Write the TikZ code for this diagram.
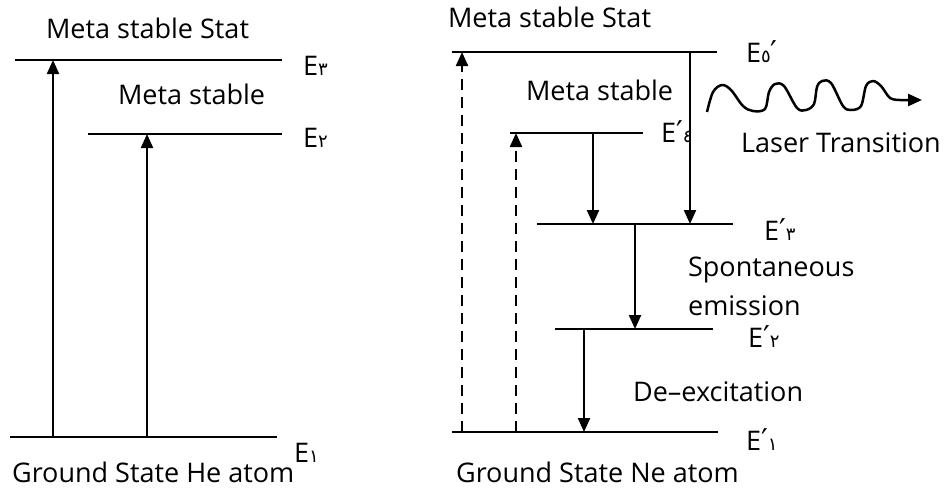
\documentclass[tikz,border=0pt]{standalone}
\usepackage{fontspec}
\setmainfont{Open Sans}
\newfontfamily\arabicfont[Script=Arabic]{DejaVu Sans}
\usetikzlibrary{arrows.meta}
\newcommand{\adig}[1]{{\arabicfont\fontsize{18}{18}\selectfont #1}}
\newcommand{\prm}{{\arabicfont\fontsize{30}{30}\selectfont ′}}
\tikzset{every picture/.style={line width=2.2pt}}

\begin{document}
\begin{tikzpicture}[x=1pt,y=-1pt,font=\fontsize{27}{32}\selectfont,
        pump/.style={-{Triangle[length=14pt,width=12pt]}},
        pumpdash/.style={pump,dash pattern=on 11pt off 7pt},
        txt/.style={anchor=base west,inner sep=0pt}]
    \useasboundingbox (0,0) rectangle (947,488);
    % He levels
    \coordinate (he1a) at (10,437);  \coordinate (he1b) at (277,437);
    \coordinate (he2a) at (88,134);  \coordinate (he2b) at (282,134);
    \coordinate (he3a) at (15,60);   \coordinate (he3b) at (282,60);
    % Ne levels
    \coordinate (ne1a) at (452,432); \coordinate (ne1b) at (718,432);
    \coordinate (ne2a) at (555,329); \coordinate (ne2b) at (713,329);
    \coordinate (ne3a) at (537,224); \coordinate (ne3b) at (733,224);
    \coordinate (ne4a) at (510,133); \coordinate (ne4b) at (643,133);
    \coordinate (ne5a) at (452,52);  \coordinate (ne5b) at (717,52);
    \foreach \lv in {he1,he2,he3,ne1,ne2,ne3,ne4,ne5}
        \draw (\lv a) -- (\lv b);
    % transitions
    \draw[pump] (53,0 |- he1a) -- (53,0 |- he3a);
    \draw[pump] (147,0 |- he1a) -- (147,0 |- he2a);
    \draw[pumpdash] (462,0 |- ne1a) -- (462,0 |- ne5a);
    \draw[pumpdash] (516,0 |- ne1a) -- (516,0 |- ne4a);
    \draw[pump] (690,0 |- ne5a) -- (690,0 |- ne3a);
    \draw[pump] (593,0 |- ne4a) -- (593,0 |- ne3a);
    \draw[pump] (635,0 |- ne3a) -- (635,0 |- ne2a);
    \draw[pump] (584,0 |- ne2a) -- (584,0 |- ne1a);
    % laser wave
    \coordinate (wv0) at (707,112);
    \coordinate (wv1) at (922,100);
    \draw[-{Triangle[length=14pt,width=12pt]},line join=round,line width=2.5pt]
        plot[smooth,tension=0.55] coordinates {(wv0) (713,92) (722,85) (731,90)
        (743,106) (753,111) (765,109) (769,92) (775,84) (784,86) (797,108)
        (806,110) (814,104) (817,87) (822,81) (831,83) (843,106) (851,110)
        (861,106) (866,86) (873,81) (881,86) (890,98) (900,100)} -- (wv1);
    % labels
    \node[txt] (heTop) at (45,38) {Meta stable Stat};
    \node[txt] (heMid) at (117,104) {Meta stable};
    \node[txt] (heGnd) at (11,482) {Ground State He atom};
    \node[txt] (heE3) at (302,75) {E\adig{٣}};
    \node[txt] (heE2) at (302,147) {E\adig{٢}};
    \node[txt] (heE1) at (293,462) {E\adig{١}};
    \node[txt] (neTop) at (447,27) {Meta stable Stat};
    \node[txt] (neMid) at (525,100) {Meta stable};
    \node[txt] (neGnd) at (455,482) {Ground State Ne atom};
    \node[txt] (neE5) at (745,62) {E\adig{٥}\prm};
    \node[txt] (neE4) at (660,142) {E\prm\adig{٤}};
    \node[txt] (neE3) at (763,240) {E\prm\adig{٣}};
    \node[txt] (neE2) at (747,347) {E\prm\adig{٢}};
    \node[txt] (neE1) at (745,450) {E\prm\adig{١}};
    \node[txt] (laser) at (740,152) {Laser Transition};
    \node[txt] (spont) at (687,276) {Spontaneous};
    \node[txt] (emis) at (687,315) {emission};
    \node[txt] (deex) at (632,401) {De–excitation};
\end{tikzpicture}
\end{document}
